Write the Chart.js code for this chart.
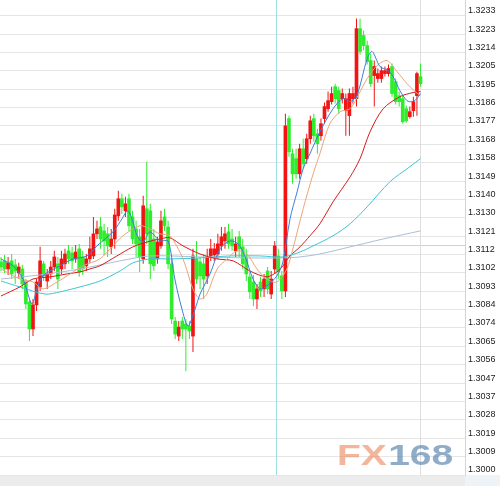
<!DOCTYPE html>
<html><head><meta charset="utf-8">
<script src="https://cdn.jsdelivr.net/npm/chart.js@4/dist/chart.umd.min.js"></script>
<style>html,body{margin:0;padding:0;background:#fff;overflow:hidden}canvas{display:block}</style>
</head><body>
<canvas id="c" width="500" height="486"></canvas>
<script>
// ---- candle data (index 0..118) ----
const open=[1.31080,1.31085,1.31044,1.31085,1.31065,1.31024,1.31044,1.30978,1.30877,1.30740,
1.30862,1.30953,1.31070,1.30983,1.31019,1.31054,1.31070,1.31044,1.31070,1.31136,
1.31125,1.31095,1.31146,1.31105,1.31060,1.31095,1.31110,1.31222,1.31257,1.31237,
1.31222,1.31156,1.31196,1.31313,1.31400,1.31339,1.31400,1.31308,1.31247,1.31207,
1.31095,1.31349,1.31339,1.31196,1.31095,1.31161,1.31308,1.31257,1.31070,1.30780,
1.30704,1.30780,1.30765,1.30755,1.30704,1.31095,1.31080,1.31070,1.31009,1.31110,
1.31115,1.31120,1.31161,1.31186,1.31232,1.31196,1.31136,1.31207,1.31156,1.31105,
1.31004,1.30978,1.30892,1.30978,1.30943,1.31034,1.30917,1.31044,1.31110,1.31009,
1.30933,1.31806,1.31628,1.31603,1.31526,1.31653,1.31603,1.31704,1.31806,1.31729,
1.31719,1.31806,1.31856,1.31892,1.31968,1.31948,1.31907,1.31846,1.31821,1.31907,
1.31907,1.32262,1.32227,1.32176,1.32100,1.32024,1.32009,1.32009,1.32034,1.32034,
1.32070,1.31993,1.31922,1.31907,1.31856,1.31816,1.31846,1.31922,1.32019];
const close=[1.31054,1.31044,1.31075,1.31019,1.31034,1.31054,1.30968,1.30867,1.30740,1.30862,
1.30978,1.31085,1.31009,1.31019,1.31054,1.31105,1.30993,1.31095,1.31120,1.31095,
1.31085,1.31130,1.31029,1.31044,1.31095,1.31146,1.31222,1.31247,1.31196,1.31186,
1.31161,1.31196,1.31318,1.31400,1.31359,1.31374,1.31263,1.31196,1.31171,1.31105,
1.31364,1.31222,1.31070,1.31060,1.31181,1.31288,1.31263,1.31070,1.30791,1.30714,
1.30750,1.30740,1.30740,1.30730,1.31110,1.30993,1.31009,1.30993,1.31105,1.31146,
1.31146,1.31171,1.31207,1.31222,1.31171,1.31161,1.31171,1.31146,1.31070,1.31019,
1.30928,1.30892,1.30943,1.30933,1.30993,1.30943,1.30993,1.31161,1.31029,1.30933,
1.31770,1.31638,1.31526,1.31526,1.31653,1.31577,1.31704,1.31795,1.31719,1.31679,
1.31780,1.31867,1.31897,1.31933,1.31907,1.31856,1.31933,1.31907,1.31933,1.31933,
1.32262,1.32146,1.32176,1.32095,1.31983,1.32070,1.32034,1.32049,1.32049,1.32060,
1.31933,1.31892,1.31892,1.31790,1.31795,1.31841,1.31892,1.32034,1.31983];
const high=[1.31105,1.31115,1.31105,1.31120,1.31095,1.31075,1.31065,1.30993,1.30892,1.30892,
1.30993,1.31156,1.31085,1.31044,1.31085,1.31136,1.31105,1.31136,1.31146,1.31166,
1.31156,1.31166,1.31171,1.31136,1.31120,1.31207,1.31308,1.31288,1.31308,1.31273,
1.31257,1.31247,1.31349,1.31440,1.31425,1.31410,1.31425,1.31339,1.31288,1.31247,
1.31415,1.31587,1.31374,1.31247,1.31207,1.31339,1.31349,1.31288,1.31095,1.30801,
1.30780,1.30801,1.30791,1.30780,1.31146,1.31186,1.31105,1.31120,1.31146,1.31196,
1.31176,1.31222,1.31257,1.31257,1.31273,1.31247,1.31207,1.31237,1.31196,1.31146,
1.31034,1.31014,1.30968,1.31004,1.31019,1.31054,1.31034,1.31186,1.31146,1.31034,
1.31831,1.31821,1.31653,1.31653,1.31679,1.31704,1.31729,1.31821,1.31831,1.31755,
1.31806,1.31887,1.31943,1.31968,1.31983,1.31968,1.31958,1.31933,1.31958,1.31968,
1.32313,1.32313,1.32252,1.32201,1.32136,1.32100,1.32060,1.32070,1.32070,1.32080,
1.32085,1.32009,1.31943,1.31927,1.31872,1.31867,1.31917,1.32044,1.32085];
const low=[1.31034,1.31024,1.31014,1.30993,1.30968,1.30993,1.30943,1.30841,1.30679,1.30704,
1.30831,1.30933,1.30983,1.30943,1.30993,1.31034,1.30943,1.31019,1.31044,1.31070,
1.31044,1.31075,1.31004,1.31014,1.31034,1.31075,1.31095,1.31196,1.31146,1.31115,
1.31105,1.31120,1.31146,1.31288,1.31323,1.31308,1.31237,1.31171,1.31105,1.31029,
1.31070,1.31171,1.30993,1.31034,1.31070,1.31146,1.31237,1.31044,1.30765,1.30689,
1.30679,1.30689,1.30526,1.30689,1.30623,1.30968,1.30943,1.30892,1.30968,1.31085,
1.31085,1.31095,1.31136,1.31146,1.31146,1.31136,1.31105,1.31105,1.31044,1.30983,
1.30892,1.30856,1.30841,1.30902,1.30902,1.30917,1.30892,1.31019,1.30993,1.30892,
1.30902,1.31613,1.31476,1.31501,1.31501,1.31552,1.31577,1.31679,1.31689,1.31628,
1.31694,1.31780,1.31841,1.31877,1.31882,1.31831,1.31882,1.31719,1.31719,1.31882,
1.31867,1.32130,1.32151,1.32080,1.31968,1.31867,1.31988,1.31988,1.32019,1.32019,
1.31917,1.31877,1.31867,1.31780,1.31785,1.31806,1.31816,1.31821,1.31968];

// ---- moving averages (candle index, value) ----
const ma5Idx=[0,3.4,6.2,8.7,10.1,11.8,16.6,20.3,24.2,27.0,31.5,33.5,35.7,37.1,38.3,40.0,41.9,44.7,47.0,48.9,50.9,52.6,54.6,56.0,58.8,61.6,64.4,66.7,68.6,70.9,72.9,74.8,77.6,79.3,81.3,83.3,85.0,86.9,89.7,93.4,96.2,98.2,100.1,103.0,104.4,106.6,108.9,110.3,112.2,114.2,115.6,117.0,118];
const ma5Val=[1.31095,1.31060,1.30993,1.30867,1.30943,1.31009,1.31060,1.31095,1.31110,1.31161,1.31232,1.31283,1.31339,1.31283,1.31212,1.31181,1.31232,1.31186,1.31186,1.30993,1.30841,1.30755,1.30841,1.30917,1.31019,1.31146,1.31186,1.31171,1.31110,1.30993,1.30943,1.30958,1.31009,1.31080,1.31298,1.31435,1.31552,1.31628,1.31739,1.31856,1.31907,1.31892,1.31922,1.32110,1.32146,1.32070,1.32049,1.32019,1.31948,1.31897,1.31892,1.31907,1.31933];
const ma10Idx=[0,5.3,9.0,11.8,15.8,18.6,23.1,27.8,31.5,34.3,39.1,41.9,44.7,47.5,51.2,54.0,56.0,57.9,60.8,63.6,66.4,69.2,72.0,74.8,77.6,80.4,82.1,85.0,87.8,89.7,92.5,95.4,98.2,100.4,103.0,105.8,108.6,111.4,114.2,116.5,118];
const ma10Val=[1.31044,1.30993,1.30978,1.30943,1.30978,1.31009,1.31060,1.31095,1.31161,1.31212,1.31263,1.31247,1.31222,1.31212,1.31095,1.30943,1.30892,1.30917,1.31044,1.31095,1.31136,1.31120,1.31044,1.30993,1.30978,1.31044,1.31146,1.31349,1.31526,1.31628,1.31780,1.31841,1.31856,1.31922,1.32009,1.32075,1.32100,1.32044,1.31983,1.31943,1.31922];
const ma20Idx=[0,5.3,9.0,13.8,18.6,22.2,25.0,27.8,32.6,37.1,41.1,44.7,47.5,51.2,56.0,60.8,65.3,70.0,74.8,77.6,79.3,81.3,84.1,86.9,89.7,93.4,98.2,101.0,103.8,107.5,112.2,115.9,118];
const ma20Val=[1.30907,1.30953,1.30993,1.31004,1.31019,1.31029,1.31044,1.31060,1.31110,1.31156,1.31181,1.31196,1.31202,1.31161,1.31120,1.31095,1.31085,1.31034,1.31004,1.31029,1.31060,1.31110,1.31156,1.31212,1.31273,1.31384,1.31511,1.31603,1.31739,1.31856,1.31917,1.31938,1.31943];
const ma60Idx=[0,5.3,12.4,16.6,22.2,27.8,33.5,37.1,41.9,47.5,56.0,64.4,72.9,79.3,84.1,87.8,93.4,98.2,103.0,109.4,115.0,118];
const ma60Val=[1.30983,1.30953,1.30917,1.30928,1.30953,1.30983,1.31034,1.31075,1.31095,1.31095,1.31100,1.31110,1.31110,1.31105,1.31130,1.31161,1.31212,1.31273,1.31359,1.31486,1.31562,1.31603];
const ma120Idx=[0,11.0,22.2,33.5,41.9,56.0,70.0,79.3,84.1,89.7,98.2,107.5,118];
const ma120Val=[1.30993,1.31014,1.31044,1.31085,1.31110,1.31105,1.31100,1.31100,1.31105,1.31120,1.31156,1.31196,1.31237];

// ---- axis ticks ----
const yTickValues=[1.30000,1.30093,1.30186,1.30279,1.30372,1.30465,1.30558,1.30652,1.30745,1.30838,1.30931,1.31024,1.31117,1.31210,1.31303,1.31396,1.31489,1.31582,1.31675,1.31769,1.31862,1.31955,1.32048,1.32141,1.32234,1.32327];
const yTickLabels=['1.3000','1.3009','1.3019','1.3028','1.3037','1.3047','1.3056','1.3065','1.3074','1.3084','1.3093','1.3102','1.3112','1.3121','1.3130','1.3140','1.3149','1.3158','1.3168','1.3177','1.3186','1.3195','1.3205','1.3214','1.3223','1.3233'];

// ---- reference markers ----
const refPrice=1.31166;
const sessionIdx=77.4;
const lastIdx=118;

const UP='#f01414', DOWN='#2ded2d';
const candleColor=i=>close[i]>=open[i]?UP:DOWN;
const pts=(ix,vals)=>ix.map((x,k)=>({x:x,y:vals[k]}));
const lineDs=(label,ix,vals,color)=>({type:'line',label,data:pts(ix,vals),borderColor:color,borderWidth:1,pointRadius:0,tension:0.3,fill:false,order:1});

const decor={
  id:'decor',
  beforeDraw(chart){
    const c=chart.ctx,a=chart.chartArea;
    c.save();
    c.fillStyle='#ffffff';c.fillRect(0,0,chart.width,chart.height);
    c.fillStyle='#ececec';c.fillRect(0,a.bottom,a.right,chart.height-a.bottom);
    c.fillStyle='#eef3f8';c.fillRect(a.right,a.bottom,chart.width-a.right,chart.height-a.bottom);
    c.restore();
  },
  beforeDatasetsDraw(chart){
    const c=chart.ctx,a=chart.chartArea,xs=chart.scales.x,ys=chart.scales.y;
    c.save();
    c.lineWidth=1;
    const yr=Math.round(ys.getPixelForValue(refPrice))+0.5;
    c.strokeStyle='#a6e2e6';c.beginPath();c.moveTo(a.left,yr);c.lineTo(a.right,yr);c.stroke();
    const xsx=Math.round(xs.getPixelForValue(sessionIdx))+0.5;
    c.strokeStyle='#9edde2';c.beginPath();c.moveTo(xsx,a.top);c.lineTo(xsx,a.bottom);c.stroke();
    const xl=Math.round(xs.getPixelForValue(lastIdx))+0.5;
    c.strokeStyle='#dedede';c.beginPath();c.moveTo(xl,a.top);c.lineTo(xl,a.bottom);c.stroke();
    // watermark
    c.translate(a.right-128,a.bottom-10);
    c.scale(1.3,1);
    c.font="bold 30px 'Liberation Sans'";
    c.textBaseline='alphabetic';
    c.fillStyle='rgba(236,135,95,0.62)';
    c.fillText('FX',0,0);
    const w=c.measureText('FX').width;
    c.fillStyle='rgba(75,122,168,0.62)';
    c.fillText('168',w+1,0);
    c.restore();
  }
};

new Chart(document.getElementById('c'),{
  type:'bar',
  data:{datasets:[
    lineDs('MA5',ma5Idx,ma5Val,'#3b7fdb'),
    lineDs('MA10',ma10Idx,ma10Val,'#eba57c'),
    lineDs('MA20',ma20Idx,ma20Val,'#d51d1d'),
    lineDs('MA60',ma60Idx,ma60Val,'#3cc7d6'),
    lineDs('MA120',ma120Idx,ma120Val,'#a9c0d8'),
    {type:'bar',label:'wick',data:high.map((h,i)=>({x:i,y:[low[i],h]})),backgroundColor:ctx=>candleColor(ctx.dataIndex),
     grouped:false,barPercentage:1,categoryPercentage:1,maxBarThickness:1,inflateAmount:0,borderWidth:0,order:10},
    {type:'bar',label:'body',data:open.map((o,i)=>({x:i,y:[o,close[i]]})),backgroundColor:ctx=>candleColor(ctx.dataIndex),
     grouped:false,barPercentage:1,categoryPercentage:1,maxBarThickness:3,minBarLength:1,borderWidth:0,order:9}
  ]},
  options:{
    responsive:false,animation:false,devicePixelRatio:1,events:[],
    layout:{padding:{left:0,right:0,top:0,bottom:11}},
    plugins:{legend:{display:false},tooltip:{enabled:false}},
    scales:{
      x:{type:'linear',min:-0.28,max:130.52,display:false,offset:false,grid:{display:false}},
      y:{type:'linear',position:'right',min:1.3,max:1.32407,
        afterBuildTicks:s=>{s.ticks=yTickValues.map(v=>({value:v}));},
        afterFit:s=>{s.width=35;s.paddingTop=0;s.paddingBottom=0;},
        grid:{color:'#e6e6e6',lineWidth:1,drawTicks:false},
        border:{display:true,color:'#d4d4d4'},
        ticks:{autoSkip:false,padding:3,labelOffset:-5,color:'#222',font:{family:"'Liberation Sans'",size:9},
          callback:(v,i)=>yTickLabels[i]}
      }
    }
  },
  plugins:[decor]
});
</script>
</body></html>
